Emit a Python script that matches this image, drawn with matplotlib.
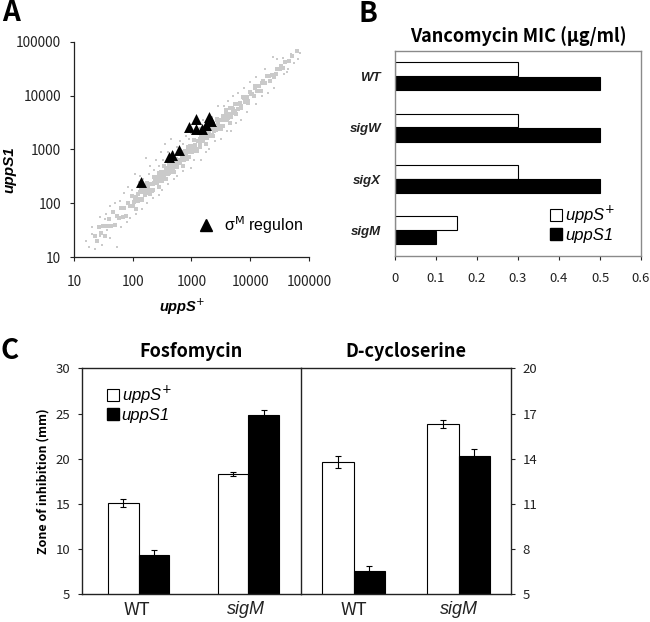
import matplotlib
matplotlib.use("Agg")
import matplotlib.pyplot as plt
from matplotlib.lines import Line2D
import numpy as np

plt.rcParams["font.family"] = ["Noto Sans CJK KR", "DejaVu Sans"]
plt.rcParams["mathtext.fontset"] = "dejavusans"

LATIN = "Liberation Sans"
DOT_GRAY = "#cacaca"
FRAME = "#222222"
BOX_GRAY = "#8a8a8a"

# --- panel A: expression of each gene, log10(uppS+) vs log10(uppS1) ---
core_log = [
    (1.35, 1.39), (1.39, 1.30), (1.43, 1.56), (1.46, 1.44), (1.50, 1.57),
    (1.53, 1.39), (1.57, 1.58), (1.60, 1.70), (1.63, 1.57), (1.67, 1.83),
    (1.70, 1.59), (1.73, 1.76), (1.76, 1.72), (1.80, 1.92), (1.83, 1.75),
    (1.86, 1.91), (1.89, 1.76), (1.92, 2.01), (1.95, 1.94), (1.98, 2.13),
    (2.01, 1.94), (2.04, 2.06), (2.06, 1.90), (2.09, 2.17), (2.11, 2.08),
    (2.14, 2.25), (2.16, 2.06), (2.19, 2.25), (2.21, 2.16), (2.24, 2.38),
    (2.26, 2.26), (2.29, 2.17), (2.31, 2.35), (2.34, 2.25), (2.36, 2.49),
    (2.39, 2.37), (2.41, 2.48), (2.44, 2.30), (2.46, 2.47), (2.49, 2.59),
    (2.51, 2.45), (2.54, 2.70), (2.56, 2.45), (2.59, 2.62), (2.61, 2.57),
    (2.64, 2.76), (2.66, 2.58), (2.69, 2.74), (2.71, 2.58), (2.74, 2.83),
    (2.76, 2.75), (2.79, 2.94), (2.81, 2.74), (2.84, 2.86), (2.86, 2.70),
    (2.89, 2.97), (2.91, 2.88), (2.94, 3.05), (2.96, 2.86), (2.99, 3.05),
    (3.01, 2.96), (3.04, 3.18), (3.06, 3.06), (3.09, 2.97), (3.11, 3.15),
    (3.14, 3.05), (3.16, 3.29), (3.19, 3.17), (3.21, 3.28), (3.24, 3.10),
    (3.26, 3.27), (3.29, 3.39), (3.31, 3.25), (3.34, 3.50), (3.36, 3.25),
    (3.39, 3.42), (3.41, 3.37), (3.44, 3.56), (3.46, 3.38), (3.49, 3.54),
    (3.51, 3.38), (3.54, 3.63), (3.56, 3.55), (3.59, 3.74), (3.61, 3.54),
    (3.64, 3.66), (3.66, 3.50), (3.69, 3.77), (3.71, 3.68), (3.74, 3.85),
    (3.76, 3.66), (3.79, 3.85),
    (2.03, 2.03), (2.06, 2.12), (2.09, 2.05), (2.12, 2.21), (2.15, 2.07),
    (2.18, 2.21), (2.21, 2.20), (2.24, 2.35), (2.27, 2.21), (2.30, 2.35),
    (2.33, 2.23), (2.36, 2.38), (2.39, 2.46), (2.42, 2.39), (2.45, 2.57),
    (2.48, 2.41), (2.51, 2.55), (2.54, 2.52), (2.57, 2.65), (2.60, 2.55),
    (2.63, 2.63), (2.66, 2.72), (2.69, 2.65), (2.72, 2.81), (2.75, 2.67),
    (2.78, 2.81), (2.81, 2.80), (2.84, 2.95), (2.87, 2.81), (2.90, 2.95),
    (2.93, 2.83), (2.96, 2.98), (2.99, 3.06), (3.02, 2.99), (3.05, 3.17),
    (3.08, 3.01), (3.11, 3.15), (3.14, 3.12), (3.17, 3.25), (3.20, 3.15),
    (3.23, 3.23), (3.26, 3.32), (3.29, 3.25), (3.32, 3.41), (3.35, 3.27),
    (3.38, 3.41), (3.41, 3.40), (3.44, 3.55), (3.47, 3.41), (3.50, 3.55),
    (3.53, 3.43), (3.56, 3.58), (3.59, 3.66), (3.62, 3.59), (3.65, 3.77),
    (3.68, 3.61), (3.71, 3.75), (3.74, 3.72), (3.77, 3.85), (3.80, 3.75),
    (2.22, 2.20), (2.26, 2.30), (2.30, 2.24), (2.34, 2.35), (2.38, 2.46),
    (2.42, 2.38), (2.46, 2.49), (2.50, 2.41), (2.54, 2.59), (2.58, 2.57),
    (2.62, 2.72), (2.66, 2.61), (2.70, 2.72), (2.74, 2.80), (2.78, 2.75),
    (2.82, 2.80), (2.86, 2.90), (2.90, 2.84), (2.94, 2.95), (2.98, 3.06),
    (3.02, 2.98), (3.06, 3.09), (3.10, 3.01), (3.14, 3.19), (3.18, 3.17),
    (3.22, 3.32), (3.26, 3.21), (3.30, 3.32), (3.34, 3.40), (3.38, 3.35),
    (3.42, 3.40), (3.46, 3.50), (3.50, 3.44), (3.54, 3.55), (3.58, 3.66),
    (3.82, 3.87), (3.85, 3.77), (3.88, 3.98), (3.91, 3.89), (3.94, 3.97),
    (3.97, 3.86), (4.00, 4.07), (4.03, 4.03), (4.06, 4.00), (4.09, 4.18),
    (4.12, 4.09), (4.15, 4.19), (4.18, 4.09), (4.21, 4.27), (4.25, 4.24),
    (4.29, 4.37), (4.33, 4.28), (4.37, 4.39), (4.41, 4.34), (4.45, 4.50),
    (4.50, 4.50), (4.55, 4.51), (4.60, 4.63), (4.66, 4.64), (4.72, 4.74),
    (4.80, 4.83),
    (3.84, 3.81), (3.90, 3.96), (3.96, 3.91), (4.02, 4.04), (4.08, 4.15),
    (4.14, 4.08), (4.20, 4.23), (4.26, 4.23), (4.32, 4.37), (4.38, 4.38),
    (4.44, 4.40), (4.52, 4.56),
]
stray_log = [
    # above the diagonal
    (1.45, 1.75), (1.55, 1.80), (1.62, 1.95), (1.70, 2.00), (1.78, 2.05),
    (1.85, 2.20), (1.92, 2.30), (1.98, 2.25), (2.04, 2.55), (2.10, 2.40),
    (2.12, 2.50), (2.18, 2.45), (2.22, 2.85), (2.28, 2.55), (2.30, 2.70),
    (2.36, 2.62), (2.40, 2.80), (2.44, 2.70), (2.48, 2.95), (2.52, 2.80),
    (2.55, 3.10), (2.60, 2.95), (2.65, 3.20), (2.68, 2.95), (2.75, 3.05),
    (2.80, 3.15), (2.85, 3.10), (2.90, 3.25), (2.95, 3.20), (3.00, 3.30),
    (3.08, 3.35), (3.15, 3.40), (3.20, 3.55), (3.28, 3.55), (3.35, 3.60),
    (3.45, 3.80), (3.55, 3.80), (3.62, 3.90), (3.70, 4.00), (3.80, 4.05),
    (3.90, 4.15), (4.00, 4.25), (4.10, 4.35), (4.25, 4.50), (4.38, 4.72),
    (4.45, 4.68),
    # below the diagonal
    (1.48, 1.22), (1.62, 1.35), (1.74, 1.19), (1.80, 1.55), (1.90, 1.65),
    (1.95, 1.72), (2.05, 1.80), (2.15, 1.90), (2.25, 2.00), (2.35, 2.10),
    (2.45, 2.15), (2.50, 2.25), (2.60, 2.35), (2.70, 2.45), (2.75, 2.50),
    (2.85, 2.60), (2.99, 2.65), (3.05, 2.80), (3.16, 2.80), (3.24, 2.95),
    (3.30, 3.00), (3.40, 3.15), (3.50, 3.20), (3.60, 3.35), (3.67, 3.35),
    (3.75, 3.50), (3.84, 3.55), (3.95, 3.70), (4.10, 3.85), (4.20, 4.00),
    (4.30, 4.05), (4.40, 4.15), (4.57, 4.40), (4.65, 4.50),
    # ends of the cloud
    (1.31, 1.43), (1.30, 1.55), (1.40, 1.28), (1.57, 1.50), (1.68, 1.62),
    (1.52, 1.70), (1.25, 1.18), (1.35, 1.15), (1.45, 1.40), (1.20, 1.30),
    (4.62, 4.45), (4.75, 4.60), (4.85, 4.80), (4.82, 4.68), (4.70, 4.78),
    (4.55, 4.70),
]
regulon_x = [136, 414, 460, 612, 906, 1200, 1175, 1510, 1740, 2000, 2120]
regulon_y = [248, 724, 800, 966, 2630, 3740, 2380, 2380, 2820, 4030, 3350]
log_ticks = [10, 100, 1000, 10000, 100000]

# --- panel B: vancomycin MIC (ug/ml) ---
strains = ["WT", "sigW", "sigX", "sigM"]
mic_plus = [0.3, 0.3, 0.3, 0.15]
mic_s1 = [0.5, 0.5, 0.5, 0.1]
mic_ticks = [0, 0.1, 0.2, 0.3, 0.4, 0.5, 0.6]

# --- panel C: zone of inhibition (mm) ---
zone_groups = ["WT", "sigM"]
fos_plus = [15.1, 18.3]
fos_plus_err = [0.4, 0.2]
fos_s1 = [9.35, 24.8]
fos_s1_err = [0.5, 0.6]
dcs_plus = [13.8, 16.3]
dcs_plus_err = [0.4, 0.25]
dcs_s1 = [6.55, 14.2]
dcs_s1_err = [0.3, 0.45]
fos_ticks = [5, 10, 15, 20, 25, 30]
dcs_ticks = [5, 8, 11, 14, 17, 20]

fig = plt.figure(figsize=(6.5, 6.22), dpi=100, facecolor="white")


def style_ticks(ax, size=9.5):
    ax.tick_params(direction="out", length=3.2, width=0.8, color=FRAME,
                   labelsize=size, labelcolor="#222222")


# ---------------- A ----------------
axA = fig.add_axes([0.1138, 0.5868, 0.3615, 0.3457])
core = np.array(core_log)
stray = np.array(stray_log)
axA.scatter(10 ** core[:, 0], 10 ** core[:, 1], s=8, marker="s",
            color=DOT_GRAY, linewidths=0, zorder=2)
axA.scatter(10 ** stray[:, 0], 10 ** stray[:, 1], s=3, marker="s",
            color=DOT_GRAY, linewidths=0, zorder=2)
axA.scatter(regulon_x, regulon_y, s=62, marker="^", color="black",
            linewidths=0, zorder=3)
axA.set_xscale("log")
axA.set_yscale("log")
axA.set_xlim(10, 100000)
axA.set_ylim(10, 100000)
axA.set_xticks(log_ticks)
axA.set_xticklabels([str(t) for t in log_ticks])
axA.set_yticks(log_ticks)
axA.set_yticklabels([str(t) for t in log_ticks])
axA.minorticks_off()
for side in ("top", "right"):
    axA.spines[side].set_visible(False)
for side in ("left", "bottom"):
    axA.spines[side].set_color(FRAME)
    axA.spines[side].set_linewidth(0.9)
style_ticks(axA, 9.8)
axA.tick_params(axis="x", pad=10)
axA.tick_params(axis="y", pad=6)
tri = Line2D([], [], marker="^", color="black", ls="none", markersize=8.5)
axA.legend([tri], ["σ$^{\\mathrm{M}}$ regulon"], loc="lower right",
           bbox_to_anchor=(1.0, 0.07), frameon=False, handletextpad=0.1,
           borderaxespad=0, prop=dict(family=LATIN, size=11.5))
fig.text(9 / 650, 1 - 170 / 622, "uppS1", rotation=90, ha="center",
         va="center", family=LATIN, fontweight="bold", fontstyle="italic",
         fontsize=11)
fig.text(182 / 650, 1 - 311.5 / 622, "uppS$^{+}$", ha="center",
         va="baseline", family=LATIN, fontweight="bold", fontstyle="italic",
         fontsize=10.5)

# ---------------- B ----------------
axB = fig.add_axes([0.6077, 0.5884, 0.3785, 0.3301])
pos = np.arange(len(strains))[::-1]
axB.barh(pos + 0.14, mic_plus, height=0.27, color="white",
         edgecolor="black", linewidth=0.8)
axB.barh(pos - 0.14, mic_s1, height=0.27, color="black",
         edgecolor="black", linewidth=0.8)
axB.set_xlim(0, 0.6)
axB.set_ylim(-0.5, 3.5)
axB.set_xticks(mic_ticks)
axB.set_xticklabels(["0" if t == 0 else f"{t:.1f}" for t in mic_ticks])
axB.set_yticks(pos)
axB.set_yticklabels(strains, family=LATIN, fontweight="bold",
                    fontstyle="italic", fontsize=12.5)
for sp in axB.spines.values():
    sp.set_color(BOX_GRAY)
    sp.set_linewidth(1.0)
style_ticks(axB, 9.5)
axB.tick_params(axis="x", pad=8)
axB.tick_params(axis="y", length=0, pad=10)
axB.set_title("Vancomycin MIC (μg/ml)", fontsize=13, fontweight="bold",
              pad=6)
h_plus = Line2D([], [], marker="s", ls="none", markersize=9,
                markerfacecolor="white", markeredgecolor="black",
                markeredgewidth=0.8)
h_s1 = Line2D([], [], marker="s", ls="none", markersize=9,
              markerfacecolor="black", markeredgecolor="black")
axB.legend([h_plus, h_s1], ["uppS$^{+}$", "uppS1"], loc="lower right",
           bbox_to_anchor=(0.92, 0.03), frameon=False, handletextpad=0.15,
           labelspacing=0.15, handlelength=0.8, borderaxespad=0,
           prop=dict(family=LATIN, style="italic", size=12))

# ---------------- C ----------------
err_kw = dict(elinewidth=0.8, capthick=0.8, ecolor="black")
x = np.arange(len(zone_groups))

axCL = fig.add_axes([0.1257, 0.0445, 0.3374, 0.3633])
axCL.bar(x - 0.12, fos_plus, 0.28, yerr=fos_plus_err, color="white",
         edgecolor="black", linewidth=0.8, capsize=2.2, error_kw=err_kw)
axCL.bar(x + 0.16, fos_s1, 0.28, yerr=fos_s1_err, color="black",
         edgecolor="black", linewidth=0.8, capsize=2.2, error_kw=err_kw)
axCL.set_ylim(5, 30)
axCL.set_yticks(fos_ticks)
axCL.set_xlim(-0.5, 1.5)
axCL.set_title("Fosfomycin", fontsize=13, fontweight="bold", pad=8)
axCL.spines["right"].set_visible(False)

axCR = fig.add_axes([0.4631, 0.0445, 0.3231, 0.3633])
axCR.bar(x - 0.15, dcs_plus, 0.30, yerr=dcs_plus_err, color="white",
         edgecolor="black", linewidth=0.8, capsize=2.2, error_kw=err_kw)
axCR.bar(x + 0.15, dcs_s1, 0.30, yerr=dcs_s1_err, color="black",
         edgecolor="black", linewidth=0.8, capsize=2.2, error_kw=err_kw)
axCR.set_ylim(5, 20)
axCR.set_yticks(dcs_ticks)
axCR.set_xlim(-0.5, 1.5)
axCR.yaxis.tick_right()
axCR.set_title("D-cycloserine", fontsize=13, fontweight="bold", pad=8)

for ax in (axCL, axCR):
    for sp in ax.spines.values():
        sp.set_color(FRAME)
        sp.set_linewidth(1.0)
    style_ticks(ax, 9.5)
    ax.tick_params(axis="y", pad=5)
    ax.tick_params(axis="x", length=0, pad=5)
    ax.set_xticks(x)
    ax.set_xticklabels(zone_groups, fontsize=13)
    ax.get_xticklabels()[1].set_fontfamily(LATIN)
    ax.get_xticklabels()[1].set_fontstyle("italic")

axCL.legend([h_plus, h_s1], ["uppS$^{+}$", "uppS1"], loc="upper left",
            bbox_to_anchor=(0.08, 0.96), frameon=False, handletextpad=0.15,
            labelspacing=0.1, handlelength=0.8, borderaxespad=0,
            prop=dict(family=LATIN, style="italic", size=12))
fig.text(43 / 650, 1 - 481 / 622, "Zone of inhibition (mm)", rotation=90,
         ha="center", va="center", fontsize=9, fontweight="bold")

# panel letters
for letter, px, py in (("A", 11, 13), ("B", 368, 14), ("C", 10, 351)):
    fig.text(px / 650, 1 - py / 622, letter, ha="center", va="center",
             fontsize=20, fontweight="bold")

fig.savefig("out.png", dpi=100, facecolor="white")
